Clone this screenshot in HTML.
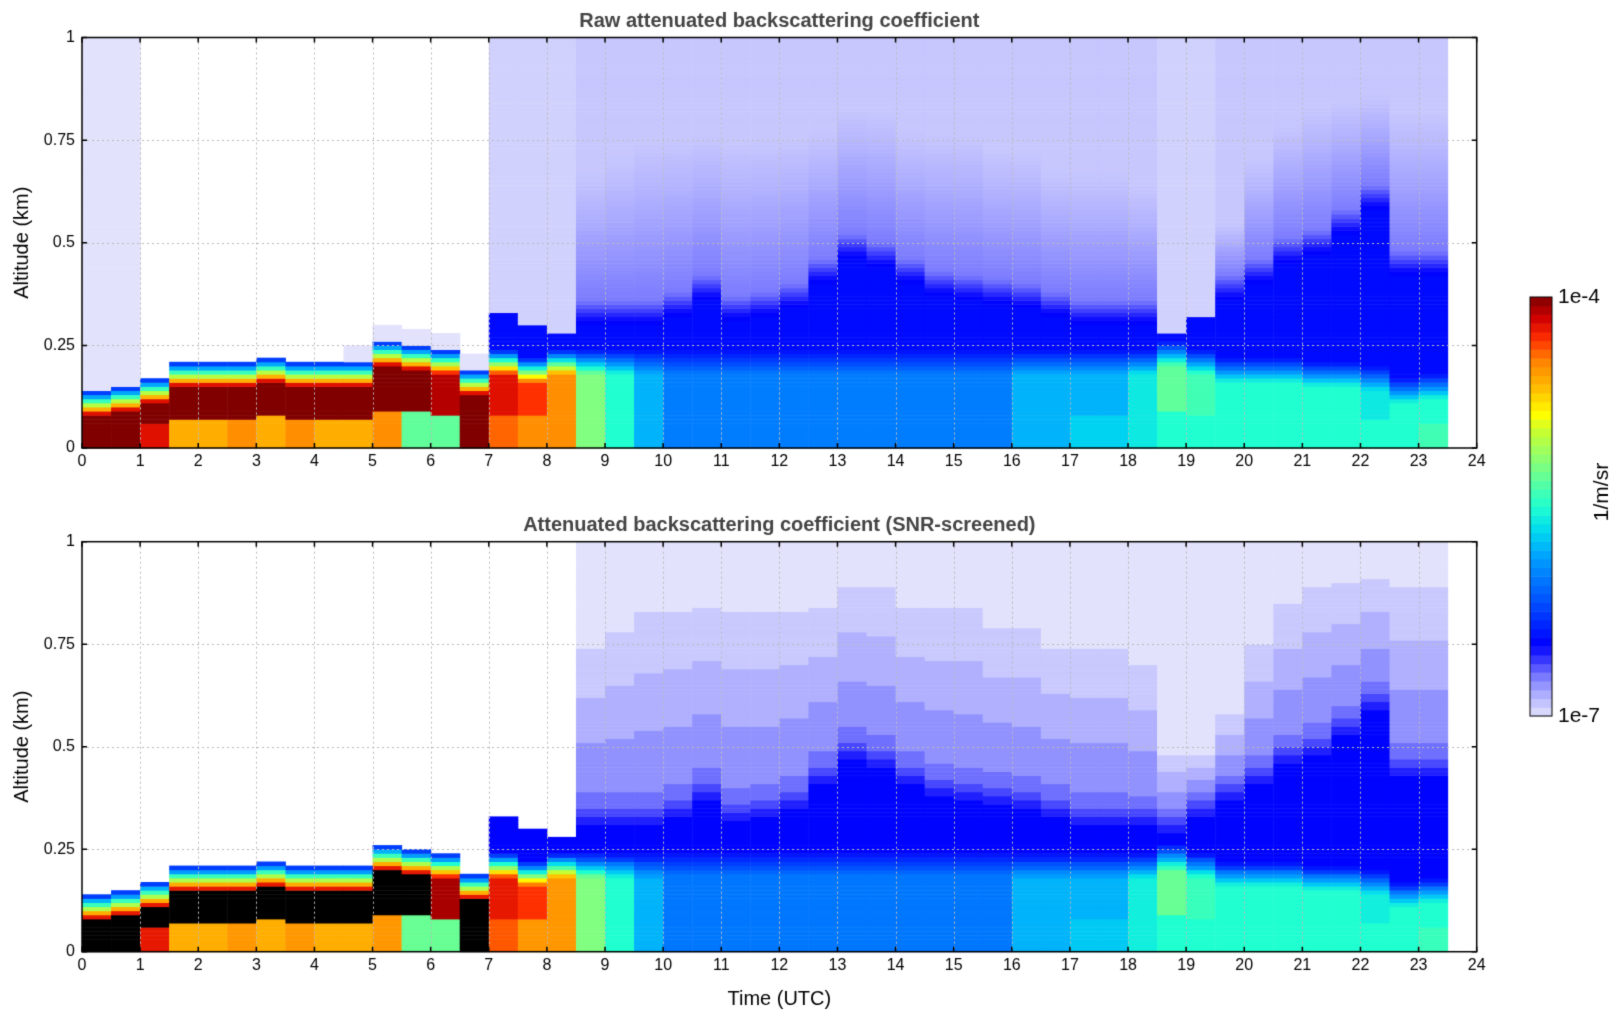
<!DOCTYPE html>
<html><head><meta charset="utf-8">
<style>
body{margin:0;background:#fff;width:1621px;height:1020px;overflow:hidden;font-family:"Liberation Sans","DejaVu Sans",sans-serif;}
#root{position:relative;width:1621px;height:1020px;}
canvas{position:absolute;left:0;top:0;}
</style></head>
<body>
<div id="root">
<canvas id="cv" width="1621" height="1020"></canvas>
</div>
<script>
// ---- data (one value per 0.5 h column, start times 0.0 .. 23.0) ----
const times = [0,0.5,1,1.5,2,2.5,3,3.5,4,4.5,5,5.5,6,6.5,7,7.5,8,8.5,9,9.5,10,10.5,11,11.5,12,12.5,13,13.5,14,14.5,15,15.5,16,16.5,17,17.5,18,18.5,19,19.5,20,20.5,21,21.5,22,22.5,23];
const layerTop = [0.14,0.15,0.17,0.21,0.21,0.21,0.22,0.21,0.21,0.21,0.26,0.25,0.24,0.19,0.24,0.22,0.24,0.24,0.24,0.24,0.24,0.24,0.24,0.24,0.24,0.24,0.24,0.24,0.24,0.24,0.24,0.24,0.24,0.24,0.24,0.24,0.24,0.26,0.24,0.22,0.22,0.22,0.21,0.21,0.2,0.17,0.18];
const coreVal = [-4,-4,-4,-4,-4,-4,-4,-4,-4,-4,-4,-4,-4.1,-4,-4.2,-4.3,-4.5,-5.2,-5.5,-5.8,-6.0,-6.0,-6.0,-6.0,-6.0,-6.0,-6.0,-6.0,-6.0,-6.0,-6.0,-6.0,-5.8,-5.8,-5.8,-5.8,-5.6,-5.3,-5.4,-5.5,-5.5,-5.5,-5.5,-5.5,-5.6,-5.5,-5.5];
const sfcVal = [-4,-4,-4.2,-4.6,-4.6,-4.5,-4.6,-4.5,-4.6,-4.6,-4.5,-5.3,-5.3,-4,-4.4,-4.5,-4.5,-5.2,-5.5,-5.8,-6.0,-6.0,-6.0,-6.0,-6.0,-6.0,-6.0,-6.0,-6.0,-6.0,-6.0,-6.0,-5.8,-5.8,-5.7,-5.7,-5.6,-5.5,-5.5,-5.5,-5.5,-5.5,-5.5,-5.5,-5.5,-5.5,-5.4];
const mixTop = [0,0,0,0,0,0,0,0,0,0,0,0,0,0,0.33,0.3,0.28,0.3,0.3,0.3,0.32,0.36,0.31,0.32,0.34,0.4,0.46,0.44,0.4,0.37,0.36,0.35,0.34,0.32,0.3,0.3,0.3,0.28,0.32,0.36,0.4,0.45,0.47,0.52,0.58,0.42,0.42];
const fadeTop = [0,0,0,0,0,0,0,0,0,0,0,0,0,0,0.6,0.6,0.7,0.8,0.85,0.9,0.9,0.9,0.9,0.9,0.9,0.9,0.95,0.95,0.9,0.9,0.9,0.85,0.85,0.8,0.8,0.8,0.75,0.5,0.5,0.6,0.8,0.9,0.95,0.95,0.95,0.95,0.95];
const rawBg = [-7,-7,null,null,null,null,null,null,null,null,null,null,null,null,-7,-7,-7,-6.9,-6.9,-6.9,-6.9,-6.9,-6.9,-6.9,-6.9,-6.9,-6.9,-6.9,-6.9,-6.9,-6.9,-6.9,-6.9,-6.9,-6.9,-6.9,-6.9,-7,-7,-6.9,-6.9,-6.9,-6.9,-6.9,-6.9,-6.9,-6.9];
const screenedAbove = [0,0,0,0,0,0,0,0,0,0,0,0,0,0,0,0,0,1,1,1,1,1,1,1,1,1,1,1,1,1,1,1,1,1,1,1,1,1,1,1,1,1,1,1,1,1,1];
const xTicks = [0,1,2,3,4,5,6,7,8,9,10,11,12,13,14,15,16,17,18,19,20,21,22,23,24];
const yTicks = [0,0.25,0.5,0.75,1];
const yTickLabels = ["0","0.25","0.5","0.75","1"];

const cv=document.getElementById('cv');const ctx=cv.getContext('2d');
const X0=82,X1=1476.7;
const panels=[{top:37.5,bot:448,raw:true,title:"Raw attenuated backscattering coefficient",ty:21},
              {top:541.7,bot:951.7,raw:false,title:"Attenuated backscattering coefficient (SNR-screened)",ty:525}];
function xs(t){return X0+(X1-X0)*t/24;}
function ys(p,z){return p.bot-(p.bot-p.top)*z;}
const stops=[[0,[226,226,252]],[0.05,[176,176,255]],[0.09,[128,128,255]],[0.13,[64,64,255]],[0.17,[0,0,255]],[0.3,[0,100,255]],[0.38,[0,160,255]],[0.44,[0,216,240]],[0.5,[32,255,208]],[0.6,[128,255,128]],[0.68,[200,255,48]],[0.72,[255,255,0]],[0.78,[255,192,0]],[0.85,[255,128,0]],[0.9,[255,48,0]],[0.95,[208,0,0]],[1,[128,0,0]]];
function cmap(v,quant){let f=(v+7)/3;f=Math.max(0,Math.min(1,f));if(quant)f=Math.round(f*40)/40;
 for(let i=1;i<stops.length;i++){if(f<=stops[i][0]){const a=stops[i-1],b=stops[i];const u=(f-a[0])/(b[0]-a[0]);
 const c=a[1].map((x,k)=>Math.round(x+(b[1][k]-x)*u));return `rgb(${c[0]},${c[1]},${c[2]})`;}}return 'rgb(128,0,0)';}
function valueAt(i,z,raw){
 const lt=layerTop[i];
 if(z<lt*0.35) return sfcVal[i];
 if(z<lt-0.06) return coreVal[i];
 if(z<lt){const u=(z-(lt-0.06))/0.06;return coreVal[i]+(-6.45-coreVal[i])*u;}
 const mt=mixTop[i];
 if(mt>0){ if(z<mt) return -6.45;
   if(!raw && !screenedAbove[i]) return null;
   const d=z-mt;let v;
   if(d<0.06) v=-6.45-0.27*d/0.06;
   else {const ft=fadeTop[i];const u=Math.min(1,(d-0.06)/Math.max(0.05,ft-mt-0.06));v=-6.72-0.28*u;}
   if(raw){ v=Math.max(v,-6.92); if(rawBg[i]!==null && rawBg[i]<=-7) v=Math.min(v,-6.95);}
   return v;}
 if(raw){ if(rawBg[i]!==null) return rawBg[i]; if(z<lt+0.04 && times[i]>=4.5) return -7; return null;}
 return null;
}
panels.forEach(p=>{
 for(let i=0;i<times.length;i++){
  const xa=xs(times[i]),xb=xs(times[i]+0.5);
  for(let k=0;k<100;k++){const z=k*0.01+0.005;let v=valueAt(i,z,p.raw);if(v===null)continue;
   let col; if(!p.raw && v>=-4.05) col='#000'; else col=cmap(v,!p.raw);
   ctx.fillStyle=col;const ya=ys(p,(k+1)*0.01),yb=ys(p,k*0.01);ctx.fillRect(xa,ya,xb-xa+0.5,yb-ya+0.5);}
 }
 ctx.strokeStyle='#bbb';ctx.lineWidth=1;ctx.setLineDash([2,3]);
 xTicks.forEach(t=>{if(t==0||t==24)return;ctx.beginPath();ctx.moveTo(Math.round(xs(t))+0.5,p.top);ctx.lineTo(Math.round(xs(t))+0.5,p.bot);ctx.stroke();});
 yTicks.forEach(z=>{if(z==0||z==1)return;ctx.beginPath();ctx.moveTo(X0,Math.round(ys(p,z))+0.5);ctx.lineTo(X1,Math.round(ys(p,z))+0.5);ctx.stroke();});
 ctx.setLineDash([]);
 ctx.strokeStyle='#000';ctx.lineWidth=1.5;ctx.strokeRect(X0,p.top,X1-X0,p.bot-p.top);
 ctx.fillStyle='#000';ctx.font='16px "Liberation Sans", sans-serif';ctx.textAlign='center';ctx.textBaseline='top';
 xTicks.forEach(t=>{const x=xs(t);ctx.beginPath();ctx.moveTo(x,p.bot);ctx.lineTo(x,p.bot-5);ctx.moveTo(x,p.top);ctx.lineTo(x,p.top+5);ctx.stroke();ctx.fillText(String(t),x,p.bot+6);});
 ctx.textAlign='right';ctx.textBaseline='middle';
 yTicks.forEach((z,j)=>{const y=ys(p,z);ctx.beginPath();ctx.moveTo(X0,y);ctx.lineTo(X0+5,y);ctx.moveTo(X1,y);ctx.lineTo(X1-5,y);ctx.stroke();ctx.fillText(yTickLabels[j],X0-7,y);});
 ctx.fillStyle='#444';ctx.font='bold 20px "Liberation Sans", sans-serif';ctx.textAlign='center';ctx.fillText(p.title,(X0+X1)/2,p.ty);
 ctx.fillStyle='#000';ctx.font='20px "Liberation Sans", sans-serif';ctx.save();ctx.translate(22,(p.top+p.bot)/2);ctx.rotate(-Math.PI/2);ctx.fillText('Altitude (km)',0,0);ctx.restore();
});
ctx.fillStyle='#000';ctx.font='20px "Liberation Sans", sans-serif';ctx.textAlign='center';ctx.textBaseline='middle';ctx.fillText('Time (UTC)',(X0+X1)/2,999);
const CB={l:1530,r:1552,t:297,b:716};
const nb=48;for(let k=0;k<nb;k++){const v=-7+3*(k+0.5)/nb;ctx.fillStyle=cmap(v,false);const ya=CB.b-(CB.b-CB.t)*(k+1)/nb,yb=CB.b-(CB.b-CB.t)*k/nb;ctx.fillRect(CB.l,ya,CB.r-CB.l,yb-ya+0.5);}
ctx.strokeStyle='#000';ctx.lineWidth=1;ctx.strokeRect(CB.l,CB.t,CB.r-CB.l,CB.b-CB.t);
ctx.fillStyle='#000';ctx.font='21px "Liberation Sans", sans-serif';ctx.textAlign='left';ctx.fillText('1e-4',1558,297);ctx.fillText('1e-7',1558,716);
ctx.save();ctx.translate(1602,492);ctx.rotate(-Math.PI/2);ctx.textAlign='center';ctx.fillStyle='#000';ctx.fillText('1/m/sr',0,0);ctx.restore();
</script>
</body></html>
